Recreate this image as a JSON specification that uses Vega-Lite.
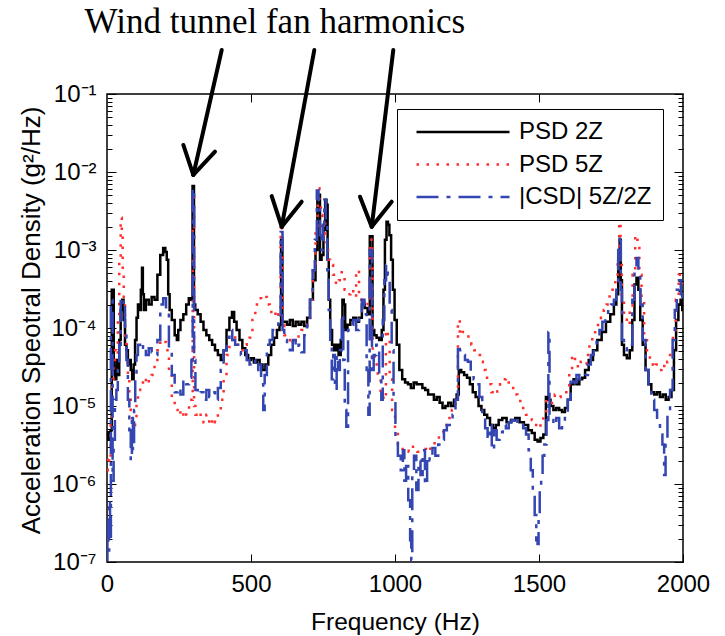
{
  "$schema": "https://vega.github.io/schema/vega-lite/v6.json",
  "width": 576,
  "height": 468,
  "autosize": "none",
  "padding": {"left": 107, "top": 94, "right": 42, "bottom": 74},
  "background": "white",
  "config": {
    "view": {"stroke": "black", "strokeWidth": 1.5},
    "font": "Liberation Sans",
    "axis": {"grid": false, "domain": false, "tickColor": "black", "tickWidth": 1, "labelColor": "black", "titleColor": "black", "labelFont": "Liberation Sans", "titleFont": "Liberation Sans", "titleFontWeight": "normal"},
    "legend": {
      "orient": "none", "legendX": 290, "legendY": 15,
      "symbolType": "stroke", "symbolSize": 8649, "symbolStrokeWidth": 2.5,
      "symbolOffset": 7, "clipHeight": 24, "rowPadding": 8.5,
      "labelFont": "Liberation Sans", "labelFontSize": 24, "labelOffset": 8, "labelColor": "black", "labelLimit": 400,
      "padding": 11, "strokeColor": "black", "fillColor": "white"
    }
  },
  "resolve": {"axis": {"x": "independent", "y": "independent"}},
  "datasets": {
    "series": [
      {"s":"PSD 2Z","f":0,"v":3.7e-6},{"s":"PSD 2Z","f":5,"v":4.6e-6},{"s":"PSD 2Z","f":10,"v":3.7e-6},{"s":"PSD 2Z","f":15,"v":4.9e-6},{"s":"PSD 2Z","f":18,"v":3.1e-4},{"s":"PSD 2Z","f":22,"v":3.1e-4},{"s":"PSD 2Z","f":25,"v":2.9e-5},{"s":"PSD 2Z","f":30,"v":2.2e-5},{"s":"PSD 2Z","f":35,"v":3.9e-5},{"s":"PSD 2Z","f":40,"v":2.5e-5},{"s":"PSD 2Z","f":45,"v":7.0e-5},{"s":"PSD 2Z","f":50,"v":1.7e-4},{"s":"PSD 2Z","f":55,"v":2.3e-4},{"s":"PSD 2Z","f":60,"v":1.27e-4},{"s":"PSD 2Z","f":65,"v":6.1e-5},{"s":"PSD 2Z","f":70,"v":5.2e-5},{"s":"PSD 2Z","f":75,"v":3.4e-5},{"s":"PSD 2Z","f":80,"v":3.9e-5},{"s":"PSD 2Z","f":85,"v":2.9e-5},{"s":"PSD 2Z","f":90,"v":2.2e-5},{"s":"PSD 2Z","f":95,"v":3.4e-5},{"s":"PSD 2Z","f":100,"v":7.0e-5},{"s":"PSD 2Z","f":105,"v":1.35e-4},{"s":"PSD 2Z","f":110,"v":2.0e-4},{"s":"PSD 2Z","f":115,"v":1.7e-4},{"s":"PSD 2Z","f":120,"v":3.1e-4},{"s":"PSD 2Z","f":123,"v":5.9e-4},{"s":"PSD 2Z","f":126,"v":2.7e-4},{"s":"PSD 2Z","f":130,"v":1.7e-4},{"s":"PSD 2Z","f":140,"v":2.3e-4},{"s":"PSD 2Z","f":150,"v":2.0e-4},{"s":"PSD 2Z","f":160,"v":2.5e-4},{"s":"PSD 2Z","f":170,"v":2.3e-4},{"s":"PSD 2Z","f":180,"v":4.8e-4},{"s":"PSD 2Z","f":190,"v":8.6e-4},{"s":"PSD 2Z","f":200,"v":1.06e-3},{"s":"PSD 2Z","f":205,"v":9.4e-4},{"s":"PSD 2Z","f":210,"v":7.5e-4},{"s":"PSD 2Z","f":215,"v":2.7e-4},{"s":"PSD 2Z","f":220,"v":1.7e-4},{"s":"PSD 2Z","f":230,"v":1.27e-4},{"s":"PSD 2Z","f":240,"v":8.1e-5},{"s":"PSD 2Z","f":245,"v":7.0e-5},{"s":"PSD 2Z","f":250,"v":9.4e-5},{"s":"PSD 2Z","f":260,"v":1.27e-4},{"s":"PSD 2Z","f":270,"v":1.5e-4},{"s":"PSD 2Z","f":280,"v":2.0e-4},{"s":"PSD 2Z","f":288,"v":2.4e-4},{"s":"PSD 2Z","f":295,"v":2.3e-4},{"s":"PSD 2Z","f":299,"v":6.6e-3},{"s":"PSD 2Z","f":301,"v":6.6e-3},{"s":"PSD 2Z","f":303,"v":2.0e-4},{"s":"PSD 2Z","f":310,"v":1.7e-4},{"s":"PSD 2Z","f":320,"v":1.5e-4},{"s":"PSD 2Z","f":330,"v":1.2e-4},{"s":"PSD 2Z","f":340,"v":9.4e-5},{"s":"PSD 2Z","f":350,"v":8.1e-5},{"s":"PSD 2Z","f":360,"v":7.0e-5},{"s":"PSD 2Z","f":370,"v":6.1e-5},{"s":"PSD 2Z","f":380,"v":5.2e-5},{"s":"PSD 2Z","f":390,"v":4.5e-5},{"s":"PSD 2Z","f":400,"v":3.9e-5},{"s":"PSD 2Z","f":410,"v":5.2e-5},{"s":"PSD 2Z","f":420,"v":9.4e-5},{"s":"PSD 2Z","f":430,"v":1.35e-4},{"s":"PSD 2Z","f":438,"v":1.6e-4},{"s":"PSD 2Z","f":445,"v":1.2e-4},{"s":"PSD 2Z","f":455,"v":9.4e-5},{"s":"PSD 2Z","f":465,"v":7.0e-5},{"s":"PSD 2Z","f":475,"v":5.5e-5},{"s":"PSD 2Z","f":485,"v":4.5e-5},{"s":"PSD 2Z","f":495,"v":3.9e-5},{"s":"PSD 2Z","f":505,"v":4.1e-5},{"s":"PSD 2Z","f":515,"v":3.6e-5},{"s":"PSD 2Z","f":525,"v":3.9e-5},{"s":"PSD 2Z","f":535,"v":3.4e-5},{"s":"PSD 2Z","f":545,"v":2.9e-5},{"s":"PSD 2Z","f":555,"v":3.4e-5},{"s":"PSD 2Z","f":565,"v":4.5e-5},{"s":"PSD 2Z","f":575,"v":6.1e-5},{"s":"PSD 2Z","f":585,"v":7.5e-5},{"s":"PSD 2Z","f":595,"v":9.4e-5},{"s":"PSD 2Z","f":603,"v":1.1e-4},{"s":"PSD 2Z","f":606,"v":1.35e-3},{"s":"PSD 2Z","f":608,"v":1.35e-3},{"s":"PSD 2Z","f":610,"v":1.2e-4},{"s":"PSD 2Z","f":620,"v":1.2e-4},{"s":"PSD 2Z","f":630,"v":1.1e-4},{"s":"PSD 2Z","f":640,"v":1.27e-4},{"s":"PSD 2Z","f":650,"v":1.06e-4},{"s":"PSD 2Z","f":660,"v":1.2e-4},{"s":"PSD 2Z","f":670,"v":1.1e-4},{"s":"PSD 2Z","f":680,"v":1.2e-4},{"s":"PSD 2Z","f":690,"v":1.06e-4},{"s":"PSD 2Z","f":700,"v":1.35e-4},{"s":"PSD 2Z","f":710,"v":2.3e-4},{"s":"PSD 2Z","f":720,"v":4.1e-4},{"s":"PSD 2Z","f":728,"v":1.0e-3},{"s":"PSD 2Z","f":733,"v":5.1e-3},{"s":"PSD 2Z","f":737,"v":5.1e-3},{"s":"PSD 2Z","f":742,"v":7.5e-4},{"s":"PSD 2Z","f":748,"v":8.6e-4},{"s":"PSD 2Z","f":755,"v":1.8e-3},{"s":"PSD 2Z","f":760,"v":4.4e-3},{"s":"PSD 2Z","f":764,"v":3.8e-3},{"s":"PSD 2Z","f":768,"v":7.5e-4},{"s":"PSD 2Z","f":772,"v":2.3e-4},{"s":"PSD 2Z","f":778,"v":9.4e-5},{"s":"PSD 2Z","f":785,"v":6.1e-5},{"s":"PSD 2Z","f":792,"v":5.2e-5},{"s":"PSD 2Z","f":800,"v":6.1e-5},{"s":"PSD 2Z","f":808,"v":4.5e-5},{"s":"PSD 2Z","f":815,"v":7.0e-5},{"s":"PSD 2Z","f":820,"v":2.3e-4},{"s":"PSD 2Z","f":824,"v":2.0e-4},{"s":"PSD 2Z","f":830,"v":9.4e-5},{"s":"PSD 2Z","f":840,"v":1.1e-4},{"s":"PSD 2Z","f":850,"v":1.27e-4},{"s":"PSD 2Z","f":860,"v":1.35e-4},{"s":"PSD 2Z","f":870,"v":1.2e-4},{"s":"PSD 2Z","f":880,"v":1.35e-4},{"s":"PSD 2Z","f":890,"v":2.0e-4},{"s":"PSD 2Z","f":900,"v":1.8e-4},{"s":"PSD 2Z","f":910,"v":1.5e-4},{"s":"PSD 2Z","f":915,"v":1.5e-3},{"s":"PSD 2Z","f":920,"v":1.5e-3},{"s":"PSD 2Z","f":924,"v":9.4e-5},{"s":"PSD 2Z","f":932,"v":8.1e-5},{"s":"PSD 2Z","f":940,"v":7.5e-5},{"s":"PSD 2Z","f":950,"v":7.0e-5},{"s":"PSD 2Z","f":958,"v":9.4e-5},{"s":"PSD 2Z","f":962,"v":3.1e-4},{"s":"PSD 2Z","f":968,"v":1.35e-3},{"s":"PSD 2Z","f":973,"v":2.3e-3},{"s":"PSD 2Z","f":978,"v":2.1e-3},{"s":"PSD 2Z","f":983,"v":1.55e-3},{"s":"PSD 2Z","f":990,"v":7.5e-4},{"s":"PSD 2Z","f":995,"v":3.1e-4},{"s":"PSD 2Z","f":1002,"v":1.27e-4},{"s":"PSD 2Z","f":1010,"v":6.1e-5},{"s":"PSD 2Z","f":1020,"v":2.9e-5},{"s":"PSD 2Z","f":1030,"v":2.2e-5},{"s":"PSD 2Z","f":1040,"v":2.0e-5},{"s":"PSD 2Z","f":1050,"v":1.9e-5},{"s":"PSD 2Z","f":1060,"v":1.7e-5},{"s":"PSD 2Z","f":1070,"v":2.0e-5},{"s":"PSD 2Z","f":1080,"v":1.9e-5},{"s":"PSD 2Z","f":1090,"v":1.9e-5},{"s":"PSD 2Z","f":1100,"v":1.7e-5},{"s":"PSD 2Z","f":1110,"v":1.6e-5},{"s":"PSD 2Z","f":1120,"v":1.4e-5},{"s":"PSD 2Z","f":1130,"v":1.4e-5},{"s":"PSD 2Z","f":1140,"v":1.2e-5},{"s":"PSD 2Z","f":1150,"v":1.3e-5},{"s":"PSD 2Z","f":1160,"v":1.1e-5},{"s":"PSD 2Z","f":1170,"v":9.4e-6},{"s":"PSD 2Z","f":1180,"v":1.0e-5},{"s":"PSD 2Z","f":1190,"v":1.1e-5},{"s":"PSD 2Z","f":1200,"v":1.0e-5},{"s":"PSD 2Z","f":1210,"v":1.2e-5},{"s":"PSD 2Z","f":1218,"v":1.4e-5},{"s":"PSD 2Z","f":1225,"v":2.9e-5},{"s":"PSD 2Z","f":1235,"v":2.7e-5},{"s":"PSD 2Z","f":1245,"v":2.5e-5},{"s":"PSD 2Z","f":1255,"v":2.3e-5},{"s":"PSD 2Z","f":1265,"v":1.9e-5},{"s":"PSD 2Z","f":1275,"v":1.5e-5},{"s":"PSD 2Z","f":1285,"v":1.3e-5},{"s":"PSD 2Z","f":1295,"v":1.0e-5},{"s":"PSD 2Z","f":1305,"v":8.9e-6},{"s":"PSD 2Z","f":1315,"v":7.7e-6},{"s":"PSD 2Z","f":1325,"v":7.0e-6},{"s":"PSD 2Z","f":1335,"v":5.7e-6},{"s":"PSD 2Z","f":1345,"v":5.2e-6},{"s":"PSD 2Z","f":1355,"v":5.7e-6},{"s":"PSD 2Z","f":1365,"v":6.6e-6},{"s":"PSD 2Z","f":1380,"v":7.0e-6},{"s":"PSD 2Z","f":1395,"v":6.2e-6},{"s":"PSD 2Z","f":1410,"v":6.6e-6},{"s":"PSD 2Z","f":1425,"v":7.0e-6},{"s":"PSD 2Z","f":1440,"v":6.2e-6},{"s":"PSD 2Z","f":1455,"v":5.7e-6},{"s":"PSD 2Z","f":1470,"v":4.9e-6},{"s":"PSD 2Z","f":1480,"v":4.5e-6},{"s":"PSD 2Z","f":1490,"v":3.7e-6},{"s":"PSD 2Z","f":1500,"v":3.5e-6},{"s":"PSD 2Z","f":1510,"v":3.9e-6},{"s":"PSD 2Z","f":1520,"v":4.3e-6},{"s":"PSD 2Z","f":1528,"v":1.3e-5},{"s":"PSD 2Z","f":1535,"v":1.2e-5},{"s":"PSD 2Z","f":1545,"v":1.0e-5},{"s":"PSD 2Z","f":1555,"v":8.9e-6},{"s":"PSD 2Z","f":1565,"v":9.4e-6},{"s":"PSD 2Z","f":1575,"v":8.9e-6},{"s":"PSD 2Z","f":1585,"v":8.4e-6},{"s":"PSD 2Z","f":1595,"v":9.4e-6},{"s":"PSD 2Z","f":1605,"v":1.2e-5},{"s":"PSD 2Z","f":1615,"v":1.9e-5},{"s":"PSD 2Z","f":1625,"v":2.2e-5},{"s":"PSD 2Z","f":1635,"v":1.9e-5},{"s":"PSD 2Z","f":1645,"v":2.2e-5},{"s":"PSD 2Z","f":1655,"v":2.3e-5},{"s":"PSD 2Z","f":1665,"v":2.9e-5},{"s":"PSD 2Z","f":1680,"v":3.9e-5},{"s":"PSD 2Z","f":1695,"v":5.2e-5},{"s":"PSD 2Z","f":1710,"v":7.0e-5},{"s":"PSD 2Z","f":1725,"v":8.9e-5},{"s":"PSD 2Z","f":1740,"v":1.2e-4},{"s":"PSD 2Z","f":1755,"v":1.5e-4},{"s":"PSD 2Z","f":1765,"v":2.0e-4},{"s":"PSD 2Z","f":1772,"v":2.7e-4},{"s":"PSD 2Z","f":1778,"v":7.5e-4},{"s":"PSD 2Z","f":1782,"v":1.35e-3},{"s":"PSD 2Z","f":1786,"v":4.1e-4},{"s":"PSD 2Z","f":1790,"v":6.1e-5},{"s":"PSD 2Z","f":1800,"v":4.5e-5},{"s":"PSD 2Z","f":1810,"v":4.1e-5},{"s":"PSD 2Z","f":1820,"v":5.2e-5},{"s":"PSD 2Z","f":1828,"v":1.27e-4},{"s":"PSD 2Z","f":1835,"v":3.6e-4},{"s":"PSD 2Z","f":1842,"v":4.4e-4},{"s":"PSD 2Z","f":1848,"v":3.1e-4},{"s":"PSD 2Z","f":1855,"v":1.27e-4},{"s":"PSD 2Z","f":1865,"v":6.1e-5},{"s":"PSD 2Z","f":1875,"v":2.9e-5},{"s":"PSD 2Z","f":1885,"v":1.9e-5},{"s":"PSD 2Z","f":1895,"v":1.5e-5},{"s":"PSD 2Z","f":1905,"v":1.4e-5},{"s":"PSD 2Z","f":1915,"v":1.5e-5},{"s":"PSD 2Z","f":1925,"v":1.3e-5},{"s":"PSD 2Z","f":1935,"v":1.4e-5},{"s":"PSD 2Z","f":1945,"v":1.2e-5},{"s":"PSD 2Z","f":1955,"v":1.3e-5},{"s":"PSD 2Z","f":1965,"v":1.6e-5},{"s":"PSD 2Z","f":1972,"v":5.2e-5},{"s":"PSD 2Z","f":1980,"v":1.27e-4},{"s":"PSD 2Z","f":1988,"v":2.0e-4},{"s":"PSD 2Z","f":1995,"v":2.3e-4},{"s":"PSD 2Z","f":2000,"v":1.7e-4},

      {"s":"PSD 5Z","f":0,"v":1.5e-6},{"s":"PSD 5Z","f":5,"v":2.3e-6},{"s":"PSD 5Z","f":10,"v":1.9e-6},{"s":"PSD 5Z","f":15,"v":6.6e-6},{"s":"PSD 5Z","f":20,"v":2.2e-5},{"s":"PSD 5Z","f":25,"v":3.9e-5},{"s":"PSD 5Z","f":30,"v":5.2e-5},{"s":"PSD 5Z","f":35,"v":4.5e-5},{"s":"PSD 5Z","f":40,"v":1.27e-4},{"s":"PSD 5Z","f":45,"v":7.5e-4},{"s":"PSD 5Z","f":50,"v":2.6e-3},{"s":"PSD 5Z","f":53,"v":1.8e-3},{"s":"PSD 5Z","f":56,"v":5.5e-4},{"s":"PSD 5Z","f":60,"v":2.3e-4},{"s":"PSD 5Z","f":65,"v":7.0e-5},{"s":"PSD 5Z","f":70,"v":3.9e-5},{"s":"PSD 5Z","f":75,"v":2.2e-5},{"s":"PSD 5Z","f":80,"v":1.4e-5},{"s":"PSD 5Z","f":85,"v":8.9e-6},{"s":"PSD 5Z","f":90,"v":6.6e-6},{"s":"PSD 5Z","f":95,"v":5.7e-6},{"s":"PSD 5Z","f":100,"v":7.0e-6},{"s":"PSD 5Z","f":105,"v":1.2e-5},{"s":"PSD 5Z","f":110,"v":1.6e-5},{"s":"PSD 5Z","f":120,"v":2.0e-5},{"s":"PSD 5Z","f":130,"v":2.3e-5},{"s":"PSD 5Z","f":140,"v":1.9e-5},{"s":"PSD 5Z","f":150,"v":2.2e-5},{"s":"PSD 5Z","f":160,"v":2.5e-5},{"s":"PSD 5Z","f":170,"v":3.4e-5},{"s":"PSD 5Z","f":180,"v":5.2e-5},{"s":"PSD 5Z","f":190,"v":7.0e-5},{"s":"PSD 5Z","f":200,"v":6.6e-5},{"s":"PSD 5Z","f":210,"v":5.2e-5},{"s":"PSD 5Z","f":220,"v":2.5e-5},{"s":"PSD 5Z","f":230,"v":1.2e-5},{"s":"PSD 5Z","f":240,"v":8.9e-6},{"s":"PSD 5Z","f":250,"v":7.7e-6},{"s":"PSD 5Z","f":260,"v":8.9e-6},{"s":"PSD 5Z","f":270,"v":7.0e-6},{"s":"PSD 5Z","f":280,"v":8.4e-6},{"s":"PSD 5Z","f":290,"v":1.0e-5},{"s":"PSD 5Z","f":296,"v":1.2e-5},{"s":"PSD 5Z","f":299,"v":5.1e-3},{"s":"PSD 5Z","f":301,"v":5.1e-3},{"s":"PSD 5Z","f":304,"v":1.0e-5},{"s":"PSD 5Z","f":310,"v":7.7e-6},{"s":"PSD 5Z","f":320,"v":8.4e-6},{"s":"PSD 5Z","f":330,"v":7.0e-6},{"s":"PSD 5Z","f":340,"v":6.2e-6},{"s":"PSD 5Z","f":350,"v":7.7e-6},{"s":"PSD 5Z","f":360,"v":5.7e-6},{"s":"PSD 5Z","f":370,"v":7.0e-6},{"s":"PSD 5Z","f":380,"v":6.2e-6},{"s":"PSD 5Z","f":390,"v":8.4e-6},{"s":"PSD 5Z","f":400,"v":1.2e-5},{"s":"PSD 5Z","f":410,"v":2.2e-5},{"s":"PSD 5Z","f":420,"v":4.5e-5},{"s":"PSD 5Z","f":430,"v":7.0e-5},{"s":"PSD 5Z","f":440,"v":8.1e-5},{"s":"PSD 5Z","f":450,"v":7.0e-5},{"s":"PSD 5Z","f":460,"v":6.1e-5},{"s":"PSD 5Z","f":470,"v":5.2e-5},{"s":"PSD 5Z","f":480,"v":6.1e-5},{"s":"PSD 5Z","f":490,"v":7.0e-5},{"s":"PSD 5Z","f":500,"v":7.5e-5},{"s":"PSD 5Z","f":510,"v":1.27e-4},{"s":"PSD 5Z","f":520,"v":2.0e-4},{"s":"PSD 5Z","f":530,"v":2.4e-4},{"s":"PSD 5Z","f":540,"v":2.3e-4},{"s":"PSD 5Z","f":550,"v":2.5e-4},{"s":"PSD 5Z","f":560,"v":2.0e-4},{"s":"PSD 5Z","f":570,"v":1.6e-4},{"s":"PSD 5Z","f":580,"v":1.7e-4},{"s":"PSD 5Z","f":590,"v":1.35e-4},{"s":"PSD 5Z","f":600,"v":1.5e-4},{"s":"PSD 5Z","f":606,"v":1.9e-3},{"s":"PSD 5Z","f":608,"v":1.9e-3},{"s":"PSD 5Z","f":611,"v":1.1e-4},{"s":"PSD 5Z","f":620,"v":8.1e-5},{"s":"PSD 5Z","f":630,"v":7.0e-5},{"s":"PSD 5Z","f":640,"v":6.1e-5},{"s":"PSD 5Z","f":650,"v":7.5e-5},{"s":"PSD 5Z","f":660,"v":6.6e-5},{"s":"PSD 5Z","f":670,"v":8.1e-5},{"s":"PSD 5Z","f":680,"v":9.4e-5},{"s":"PSD 5Z","f":690,"v":1.1e-4},{"s":"PSD 5Z","f":700,"v":1.35e-4},{"s":"PSD 5Z","f":710,"v":2.3e-4},{"s":"PSD 5Z","f":720,"v":5.5e-4},{"s":"PSD 5Z","f":728,"v":1.8e-3},{"s":"PSD 5Z","f":735,"v":6.2e-3},{"s":"PSD 5Z","f":740,"v":4.4e-3},{"s":"PSD 5Z","f":745,"v":2.8e-3},{"s":"PSD 5Z","f":750,"v":1.55e-3},{"s":"PSD 5Z","f":755,"v":2.4e-3},{"s":"PSD 5Z","f":760,"v":1.35e-3},{"s":"PSD 5Z","f":765,"v":1.0e-3},{"s":"PSD 5Z","f":770,"v":7.5e-4},{"s":"PSD 5Z","f":780,"v":6.4e-4},{"s":"PSD 5Z","f":790,"v":4.8e-4},{"s":"PSD 5Z","f":800,"v":3.6e-4},{"s":"PSD 5Z","f":810,"v":4.1e-4},{"s":"PSD 5Z","f":820,"v":5.2e-4},{"s":"PSD 5Z","f":830,"v":3.1e-4},{"s":"PSD 5Z","f":840,"v":2.7e-4},{"s":"PSD 5Z","f":850,"v":3.1e-4},{"s":"PSD 5Z","f":860,"v":2.5e-4},{"s":"PSD 5Z","f":870,"v":5.5e-4},{"s":"PSD 5Z","f":880,"v":2.3e-4},{"s":"PSD 5Z","f":890,"v":2.0e-4},{"s":"PSD 5Z","f":900,"v":2.3e-4},{"s":"PSD 5Z","f":910,"v":1.7e-4},{"s":"PSD 5Z","f":915,"v":1.35e-3},{"s":"PSD 5Z","f":920,"v":1.35e-3},{"s":"PSD 5Z","f":925,"v":4.5e-5},{"s":"PSD 5Z","f":935,"v":3.4e-5},{"s":"PSD 5Z","f":945,"v":2.5e-5},{"s":"PSD 5Z","f":955,"v":1.4e-5},{"s":"PSD 5Z","f":965,"v":1.2e-5},{"s":"PSD 5Z","f":972,"v":9.4e-5},{"s":"PSD 5Z","f":978,"v":7.0e-5},{"s":"PSD 5Z","f":985,"v":2.2e-5},{"s":"PSD 5Z","f":995,"v":8.9e-6},{"s":"PSD 5Z","f":1005,"v":4.9e-6},{"s":"PSD 5Z","f":1015,"v":3.2e-6},{"s":"PSD 5Z","f":1025,"v":2.8e-6},{"s":"PSD 5Z","f":1040,"v":2.9e-6},{"s":"PSD 5Z","f":1055,"v":2.6e-6},{"s":"PSD 5Z","f":1070,"v":3.0e-6},{"s":"PSD 5Z","f":1085,"v":2.6e-6},{"s":"PSD 5Z","f":1100,"v":2.8e-6},{"s":"PSD 5Z","f":1115,"v":2.6e-6},{"s":"PSD 5Z","f":1130,"v":3.2e-6},{"s":"PSD 5Z","f":1145,"v":3.7e-6},{"s":"PSD 5Z","f":1160,"v":4.6e-6},{"s":"PSD 5Z","f":1175,"v":5.7e-6},{"s":"PSD 5Z","f":1190,"v":7.0e-6},{"s":"PSD 5Z","f":1205,"v":8.9e-6},{"s":"PSD 5Z","f":1215,"v":1.2e-5},{"s":"PSD 5Z","f":1222,"v":1.27e-4},{"s":"PSD 5Z","f":1228,"v":8.1e-5},{"s":"PSD 5Z","f":1240,"v":8.9e-5},{"s":"PSD 5Z","f":1250,"v":8.1e-5},{"s":"PSD 5Z","f":1260,"v":7.5e-5},{"s":"PSD 5Z","f":1270,"v":6.1e-5},{"s":"PSD 5Z","f":1280,"v":5.2e-5},{"s":"PSD 5Z","f":1290,"v":4.5e-5},{"s":"PSD 5Z","f":1300,"v":3.7e-5},{"s":"PSD 5Z","f":1310,"v":2.9e-5},{"s":"PSD 5Z","f":1320,"v":2.3e-5},{"s":"PSD 5Z","f":1330,"v":1.9e-5},{"s":"PSD 5Z","f":1340,"v":1.5e-5},{"s":"PSD 5Z","f":1350,"v":1.4e-5},{"s":"PSD 5Z","f":1360,"v":1.6e-5},{"s":"PSD 5Z","f":1370,"v":1.9e-5},{"s":"PSD 5Z","f":1380,"v":2.2e-5},{"s":"PSD 5Z","f":1390,"v":2.3e-5},{"s":"PSD 5Z","f":1400,"v":1.9e-5},{"s":"PSD 5Z","f":1410,"v":1.7e-5},{"s":"PSD 5Z","f":1420,"v":1.4e-5},{"s":"PSD 5Z","f":1430,"v":1.3e-5},{"s":"PSD 5Z","f":1440,"v":1.1e-5},{"s":"PSD 5Z","f":1450,"v":8.9e-6},{"s":"PSD 5Z","f":1460,"v":7.7e-6},{"s":"PSD 5Z","f":1470,"v":7.0e-6},{"s":"PSD 5Z","f":1480,"v":6.6e-6},{"s":"PSD 5Z","f":1490,"v":5.7e-6},{"s":"PSD 5Z","f":1500,"v":5.2e-6},{"s":"PSD 5Z","f":1510,"v":6.6e-6},{"s":"PSD 5Z","f":1520,"v":7.7e-6},{"s":"PSD 5Z","f":1530,"v":1.2e-5},{"s":"PSD 5Z","f":1540,"v":1.1e-5},{"s":"PSD 5Z","f":1550,"v":1.3e-5},{"s":"PSD 5Z","f":1560,"v":1.4e-5},{"s":"PSD 5Z","f":1570,"v":1.3e-5},{"s":"PSD 5Z","f":1580,"v":1.4e-5},{"s":"PSD 5Z","f":1590,"v":1.5e-5},{"s":"PSD 5Z","f":1600,"v":1.6e-5},{"s":"PSD 5Z","f":1610,"v":2.9e-5},{"s":"PSD 5Z","f":1620,"v":4.5e-5},{"s":"PSD 5Z","f":1630,"v":3.7e-5},{"s":"PSD 5Z","f":1640,"v":3.1e-5},{"s":"PSD 5Z","f":1650,"v":3.7e-5},{"s":"PSD 5Z","f":1660,"v":3.4e-5},{"s":"PSD 5Z","f":1670,"v":4.5e-5},{"s":"PSD 5Z","f":1680,"v":6.1e-5},{"s":"PSD 5Z","f":1690,"v":7.5e-5},{"s":"PSD 5Z","f":1700,"v":9.4e-5},{"s":"PSD 5Z","f":1710,"v":1.2e-4},{"s":"PSD 5Z","f":1720,"v":1.35e-4},{"s":"PSD 5Z","f":1730,"v":1.7e-4},{"s":"PSD 5Z","f":1740,"v":2.0e-4},{"s":"PSD 5Z","f":1750,"v":2.7e-4},{"s":"PSD 5Z","f":1760,"v":3.1e-4},{"s":"PSD 5Z","f":1770,"v":4.1e-4},{"s":"PSD 5Z","f":1776,"v":7.5e-4},{"s":"PSD 5Z","f":1781,"v":2.3e-3},{"s":"PSD 5Z","f":1785,"v":6.4e-4},{"s":"PSD 5Z","f":1790,"v":2.3e-4},{"s":"PSD 5Z","f":1800,"v":1.35e-4},{"s":"PSD 5Z","f":1810,"v":1.1e-4},{"s":"PSD 5Z","f":1820,"v":1.7e-4},{"s":"PSD 5Z","f":1830,"v":4.8e-4},{"s":"PSD 5Z","f":1838,"v":1.55e-3},{"s":"PSD 5Z","f":1845,"v":1.35e-3},{"s":"PSD 5Z","f":1852,"v":4.8e-4},{"s":"PSD 5Z","f":1860,"v":2.3e-4},{"s":"PSD 5Z","f":1870,"v":8.1e-5},{"s":"PSD 5Z","f":1880,"v":4.5e-5},{"s":"PSD 5Z","f":1890,"v":3.4e-5},{"s":"PSD 5Z","f":1900,"v":3.1e-5},{"s":"PSD 5Z","f":1910,"v":3.4e-5},{"s":"PSD 5Z","f":1920,"v":2.9e-5},{"s":"PSD 5Z","f":1930,"v":3.4e-5},{"s":"PSD 5Z","f":1940,"v":3.1e-5},{"s":"PSD 5Z","f":1950,"v":3.7e-5},{"s":"PSD 5Z","f":1960,"v":5.2e-5},{"s":"PSD 5Z","f":1970,"v":9.4e-5},{"s":"PSD 5Z","f":1980,"v":2.3e-4},{"s":"PSD 5Z","f":1990,"v":4.8e-4},{"s":"PSD 5Z","f":2000,"v":3.1e-4},

      {"s":"|CSD| 5Z/2Z","f":0,"v":1.06e-7},{"s":"|CSD| 5Z/2Z","f":3,"v":3.5e-7},{"s":"|CSD| 5Z/2Z","f":6,"v":1.4e-7},{"s":"|CSD| 5Z/2Z","f":9,"v":6.2e-7},{"s":"|CSD| 5Z/2Z","f":12,"v":1.9e-7},{"s":"|CSD| 5Z/2Z","f":15,"v":2.3e-4},{"s":"|CSD| 5Z/2Z","f":18,"v":2.3e-4},{"s":"|CSD| 5Z/2Z","f":21,"v":1.1e-6},{"s":"|CSD| 5Z/2Z","f":25,"v":3.7e-6},{"s":"|CSD| 5Z/2Z","f":30,"v":1.2e-5},{"s":"|CSD| 5Z/2Z","f":35,"v":1.6e-5},{"s":"|CSD| 5Z/2Z","f":40,"v":2.9e-5},{"s":"|CSD| 5Z/2Z","f":45,"v":6.1e-5},{"s":"|CSD| 5Z/2Z","f":50,"v":2.3e-4},{"s":"|CSD| 5Z/2Z","f":55,"v":2.0e-4},{"s":"|CSD| 5Z/2Z","f":60,"v":2.3e-4},{"s":"|CSD| 5Z/2Z","f":65,"v":9.4e-5},{"s":"|CSD| 5Z/2Z","f":70,"v":3.9e-5},{"s":"|CSD| 5Z/2Z","f":75,"v":1.2e-5},{"s":"|CSD| 5Z/2Z","f":80,"v":4.9e-6},{"s":"|CSD| 5Z/2Z","f":85,"v":2.0e-6},{"s":"|CSD| 5Z/2Z","f":88,"v":7.7e-6},{"s":"|CSD| 5Z/2Z","f":92,"v":2.7e-6},{"s":"|CSD| 5Z/2Z","f":96,"v":8.9e-6},{"s":"|CSD| 5Z/2Z","f":100,"v":2.5e-5},{"s":"|CSD| 5Z/2Z","f":105,"v":4.5e-5},{"s":"|CSD| 5Z/2Z","f":110,"v":6.1e-5},{"s":"|CSD| 5Z/2Z","f":120,"v":5.2e-5},{"s":"|CSD| 5Z/2Z","f":130,"v":6.1e-5},{"s":"|CSD| 5Z/2Z","f":140,"v":4.5e-5},{"s":"|CSD| 5Z/2Z","f":150,"v":5.5e-5},{"s":"|CSD| 5Z/2Z","f":160,"v":4.9e-5},{"s":"|CSD| 5Z/2Z","f":170,"v":4.5e-5},{"s":"|CSD| 5Z/2Z","f":180,"v":7.0e-5},{"s":"|CSD| 5Z/2Z","f":190,"v":2.0e-4},{"s":"|CSD| 5Z/2Z","f":200,"v":2.4e-4},{"s":"|CSD| 5Z/2Z","f":210,"v":1.7e-4},{"s":"|CSD| 5Z/2Z","f":220,"v":5.2e-5},{"s":"|CSD| 5Z/2Z","f":230,"v":2.5e-5},{"s":"|CSD| 5Z/2Z","f":240,"v":1.5e-5},{"s":"|CSD| 5Z/2Z","f":250,"v":1.7e-5},{"s":"|CSD| 5Z/2Z","f":260,"v":1.4e-5},{"s":"|CSD| 5Z/2Z","f":270,"v":2.2e-5},{"s":"|CSD| 5Z/2Z","f":280,"v":1.9e-5},{"s":"|CSD| 5Z/2Z","f":290,"v":2.3e-5},{"s":"|CSD| 5Z/2Z","f":296,"v":3.9e-5},{"s":"|CSD| 5Z/2Z","f":299,"v":6.2e-3},{"s":"|CSD| 5Z/2Z","f":301,"v":6.2e-3},{"s":"|CSD| 5Z/2Z","f":304,"v":3.9e-5},{"s":"|CSD| 5Z/2Z","f":310,"v":1.6e-5},{"s":"|CSD| 5Z/2Z","f":320,"v":1.4e-5},{"s":"|CSD| 5Z/2Z","f":330,"v":1.5e-5},{"s":"|CSD| 5Z/2Z","f":340,"v":1.2e-5},{"s":"|CSD| 5Z/2Z","f":350,"v":1.6e-5},{"s":"|CSD| 5Z/2Z","f":360,"v":1.3e-5},{"s":"|CSD| 5Z/2Z","f":370,"v":1.5e-5},{"s":"|CSD| 5Z/2Z","f":380,"v":1.2e-5},{"s":"|CSD| 5Z/2Z","f":390,"v":1.7e-5},{"s":"|CSD| 5Z/2Z","f":400,"v":2.9e-5},{"s":"|CSD| 5Z/2Z","f":410,"v":5.2e-5},{"s":"|CSD| 5Z/2Z","f":420,"v":7.5e-5},{"s":"|CSD| 5Z/2Z","f":430,"v":9.4e-5},{"s":"|CSD| 5Z/2Z","f":440,"v":7.0e-5},{"s":"|CSD| 5Z/2Z","f":450,"v":6.1e-5},{"s":"|CSD| 5Z/2Z","f":460,"v":4.9e-5},{"s":"|CSD| 5Z/2Z","f":470,"v":4.5e-5},{"s":"|CSD| 5Z/2Z","f":480,"v":5.2e-5},{"s":"|CSD| 5Z/2Z","f":490,"v":3.9e-5},{"s":"|CSD| 5Z/2Z","f":500,"v":3.4e-5},{"s":"|CSD| 5Z/2Z","f":510,"v":3.9e-5},{"s":"|CSD| 5Z/2Z","f":520,"v":2.9e-5},{"s":"|CSD| 5Z/2Z","f":530,"v":3.4e-5},{"s":"|CSD| 5Z/2Z","f":540,"v":1.9e-5},{"s":"|CSD| 5Z/2Z","f":545,"v":8.9e-6},{"s":"|CSD| 5Z/2Z","f":550,"v":2.5e-5},{"s":"|CSD| 5Z/2Z","f":560,"v":6.1e-5},{"s":"|CSD| 5Z/2Z","f":570,"v":7.0e-5},{"s":"|CSD| 5Z/2Z","f":580,"v":9.4e-5},{"s":"|CSD| 5Z/2Z","f":590,"v":1.1e-4},{"s":"|CSD| 5Z/2Z","f":600,"v":1.2e-4},{"s":"|CSD| 5Z/2Z","f":606,"v":1.7e-3},{"s":"|CSD| 5Z/2Z","f":608,"v":1.7e-3},{"s":"|CSD| 5Z/2Z","f":611,"v":9.4e-5},{"s":"|CSD| 5Z/2Z","f":620,"v":7.0e-5},{"s":"|CSD| 5Z/2Z","f":630,"v":6.1e-5},{"s":"|CSD| 5Z/2Z","f":640,"v":5.2e-5},{"s":"|CSD| 5Z/2Z","f":650,"v":7.0e-5},{"s":"|CSD| 5Z/2Z","f":660,"v":5.5e-5},{"s":"|CSD| 5Z/2Z","f":670,"v":6.1e-5},{"s":"|CSD| 5Z/2Z","f":680,"v":4.9e-5},{"s":"|CSD| 5Z/2Z","f":690,"v":8.1e-5},{"s":"|CSD| 5Z/2Z","f":700,"v":1.1e-4},{"s":"|CSD| 5Z/2Z","f":710,"v":2.3e-4},{"s":"|CSD| 5Z/2Z","f":718,"v":5.5e-4},{"s":"|CSD| 5Z/2Z","f":725,"v":1.35e-3},{"s":"|CSD| 5Z/2Z","f":732,"v":5.8e-3},{"s":"|CSD| 5Z/2Z","f":737,"v":3.3e-3},{"s":"|CSD| 5Z/2Z","f":742,"v":1.55e-3},{"s":"|CSD| 5Z/2Z","f":748,"v":1.0e-3},{"s":"|CSD| 5Z/2Z","f":752,"v":2.1e-3},{"s":"|CSD| 5Z/2Z","f":757,"v":4.4e-3},{"s":"|CSD| 5Z/2Z","f":762,"v":2.1e-3},{"s":"|CSD| 5Z/2Z","f":768,"v":5.5e-4},{"s":"|CSD| 5Z/2Z","f":772,"v":1.7e-4},{"s":"|CSD| 5Z/2Z","f":778,"v":6.1e-5},{"s":"|CSD| 5Z/2Z","f":783,"v":2.2e-5},{"s":"|CSD| 5Z/2Z","f":788,"v":4.5e-5},{"s":"|CSD| 5Z/2Z","f":795,"v":1.6e-5},{"s":"|CSD| 5Z/2Z","f":800,"v":4.5e-5},{"s":"|CSD| 5Z/2Z","f":805,"v":2.9e-5},{"s":"|CSD| 5Z/2Z","f":812,"v":5.2e-5},{"s":"|CSD| 5Z/2Z","f":818,"v":1.5e-4},{"s":"|CSD| 5Z/2Z","f":823,"v":3.9e-5},{"s":"|CSD| 5Z/2Z","f":828,"v":8.9e-6},{"s":"|CSD| 5Z/2Z","f":834,"v":5.4e-6},{"s":"|CSD| 5Z/2Z","f":840,"v":9.4e-5},{"s":"|CSD| 5Z/2Z","f":850,"v":1.1e-4},{"s":"|CSD| 5Z/2Z","f":860,"v":1.27e-4},{"s":"|CSD| 5Z/2Z","f":870,"v":9.4e-5},{"s":"|CSD| 5Z/2Z","f":880,"v":1.5e-4},{"s":"|CSD| 5Z/2Z","f":890,"v":2.3e-4},{"s":"|CSD| 5Z/2Z","f":898,"v":1.5e-4},{"s":"|CSD| 5Z/2Z","f":905,"v":2.9e-5},{"s":"|CSD| 5Z/2Z","f":910,"v":7.7e-6},{"s":"|CSD| 5Z/2Z","f":914,"v":1.0e-3},{"s":"|CSD| 5Z/2Z","f":918,"v":1.0e-3},{"s":"|CSD| 5Z/2Z","f":922,"v":2.9e-5},{"s":"|CSD| 5Z/2Z","f":930,"v":4.5e-5},{"s":"|CSD| 5Z/2Z","f":940,"v":6.1e-5},{"s":"|CSD| 5Z/2Z","f":950,"v":2.2e-5},{"s":"|CSD| 5Z/2Z","f":955,"v":1.2e-5},{"s":"|CSD| 5Z/2Z","f":960,"v":1.27e-4},{"s":"|CSD| 5Z/2Z","f":966,"v":4.1e-4},{"s":"|CSD| 5Z/2Z","f":972,"v":6.4e-4},{"s":"|CSD| 5Z/2Z","f":978,"v":4.8e-4},{"s":"|CSD| 5Z/2Z","f":985,"v":1.7e-4},{"s":"|CSD| 5Z/2Z","f":992,"v":5.2e-5},{"s":"|CSD| 5Z/2Z","f":998,"v":1.2e-5},{"s":"|CSD| 5Z/2Z","f":1005,"v":3.7e-6},{"s":"|CSD| 5Z/2Z","f":1015,"v":2.3e-6},{"s":"|CSD| 5Z/2Z","f":1025,"v":1.5e-6},{"s":"|CSD| 5Z/2Z","f":1030,"v":2.7e-6},{"s":"|CSD| 5Z/2Z","f":1035,"v":1.1e-6},{"s":"|CSD| 5Z/2Z","f":1042,"v":1.7e-6},{"s":"|CSD| 5Z/2Z","f":1050,"v":6.2e-7},{"s":"|CSD| 5Z/2Z","f":1055,"v":1.9e-7},{"s":"|CSD| 5Z/2Z","f":1058,"v":1.06e-7},{"s":"|CSD| 5Z/2Z","f":1062,"v":1.5e-6},{"s":"|CSD| 5Z/2Z","f":1070,"v":2.3e-6},{"s":"|CSD| 5Z/2Z","f":1078,"v":8.4e-7},{"s":"|CSD| 5Z/2Z","f":1085,"v":2.0e-6},{"s":"|CSD| 5Z/2Z","f":1092,"v":1.3e-6},{"s":"|CSD| 5Z/2Z","f":1100,"v":2.7e-6},{"s":"|CSD| 5Z/2Z","f":1108,"v":9.7e-7},{"s":"|CSD| 5Z/2Z","f":1115,"v":2.3e-6},{"s":"|CSD| 5Z/2Z","f":1125,"v":2.0e-6},{"s":"|CSD| 5Z/2Z","f":1135,"v":2.9e-6},{"s":"|CSD| 5Z/2Z","f":1145,"v":2.3e-6},{"s":"|CSD| 5Z/2Z","f":1155,"v":3.2e-6},{"s":"|CSD| 5Z/2Z","f":1165,"v":3.7e-6},{"s":"|CSD| 5Z/2Z","f":1175,"v":4.9e-6},{"s":"|CSD| 5Z/2Z","f":1185,"v":5.7e-6},{"s":"|CSD| 5Z/2Z","f":1195,"v":6.6e-6},{"s":"|CSD| 5Z/2Z","f":1205,"v":7.7e-6},{"s":"|CSD| 5Z/2Z","f":1215,"v":1.2e-5},{"s":"|CSD| 5Z/2Z","f":1222,"v":6.1e-5},{"s":"|CSD| 5Z/2Z","f":1228,"v":5.2e-5},{"s":"|CSD| 5Z/2Z","f":1238,"v":4.5e-5},{"s":"|CSD| 5Z/2Z","f":1248,"v":3.9e-5},{"s":"|CSD| 5Z/2Z","f":1258,"v":3.7e-5},{"s":"|CSD| 5Z/2Z","f":1268,"v":2.7e-5},{"s":"|CSD| 5Z/2Z","f":1278,"v":2.2e-5},{"s":"|CSD| 5Z/2Z","f":1288,"v":1.9e-5},{"s":"|CSD| 5Z/2Z","f":1298,"v":1.3e-5},{"s":"|CSD| 5Z/2Z","f":1308,"v":7.7e-6},{"s":"|CSD| 5Z/2Z","f":1318,"v":5.2e-6},{"s":"|CSD| 5Z/2Z","f":1325,"v":3.7e-6},{"s":"|CSD| 5Z/2Z","f":1332,"v":5.7e-6},{"s":"|CSD| 5Z/2Z","f":1340,"v":2.7e-6},{"s":"|CSD| 5Z/2Z","f":1348,"v":4.9e-6},{"s":"|CSD| 5Z/2Z","f":1358,"v":3.7e-6},{"s":"|CSD| 5Z/2Z","f":1368,"v":4.6e-6},{"s":"|CSD| 5Z/2Z","f":1380,"v":5.7e-6},{"s":"|CSD| 5Z/2Z","f":1390,"v":5.2e-6},{"s":"|CSD| 5Z/2Z","f":1400,"v":6.2e-6},{"s":"|CSD| 5Z/2Z","f":1410,"v":6.6e-6},{"s":"|CSD| 5Z/2Z","f":1420,"v":5.7e-6},{"s":"|CSD| 5Z/2Z","f":1430,"v":6.6e-6},{"s":"|CSD| 5Z/2Z","f":1440,"v":6.2e-6},{"s":"|CSD| 5Z/2Z","f":1450,"v":5.2e-6},{"s":"|CSD| 5Z/2Z","f":1460,"v":4.3e-6},{"s":"|CSD| 5Z/2Z","f":1468,"v":2.7e-6},{"s":"|CSD| 5Z/2Z","f":1475,"v":1.5e-6},{"s":"|CSD| 5Z/2Z","f":1482,"v":8.4e-7},{"s":"|CSD| 5Z/2Z","f":1488,"v":4.0e-7},{"s":"|CSD| 5Z/2Z","f":1493,"v":1.9e-7},{"s":"|CSD| 5Z/2Z","f":1497,"v":1.7e-7},{"s":"|CSD| 5Z/2Z","f":1500,"v":3.5e-7},{"s":"|CSD| 5Z/2Z","f":1505,"v":8.4e-7},{"s":"|CSD| 5Z/2Z","f":1510,"v":1.3e-6},{"s":"|CSD| 5Z/2Z","f":1515,"v":2.3e-6},{"s":"|CSD| 5Z/2Z","f":1522,"v":3.2e-6},{"s":"|CSD| 5Z/2Z","f":1530,"v":6.6e-6},{"s":"|CSD| 5Z/2Z","f":1535,"v":8.9e-5},{"s":"|CSD| 5Z/2Z","f":1538,"v":7.7e-6},{"s":"|CSD| 5Z/2Z","f":1545,"v":6.6e-6},{"s":"|CSD| 5Z/2Z","f":1555,"v":5.7e-6},{"s":"|CSD| 5Z/2Z","f":1565,"v":7.0e-6},{"s":"|CSD| 5Z/2Z","f":1575,"v":5.2e-6},{"s":"|CSD| 5Z/2Z","f":1585,"v":6.2e-6},{"s":"|CSD| 5Z/2Z","f":1595,"v":7.7e-6},{"s":"|CSD| 5Z/2Z","f":1605,"v":1.2e-5},{"s":"|CSD| 5Z/2Z","f":1615,"v":2.3e-5},{"s":"|CSD| 5Z/2Z","f":1625,"v":2.0e-5},{"s":"|CSD| 5Z/2Z","f":1635,"v":2.5e-5},{"s":"|CSD| 5Z/2Z","f":1645,"v":2.2e-5},{"s":"|CSD| 5Z/2Z","f":1655,"v":2.3e-5},{"s":"|CSD| 5Z/2Z","f":1665,"v":2.5e-5},{"s":"|CSD| 5Z/2Z","f":1675,"v":3.4e-5},{"s":"|CSD| 5Z/2Z","f":1685,"v":4.5e-5},{"s":"|CSD| 5Z/2Z","f":1695,"v":5.5e-5},{"s":"|CSD| 5Z/2Z","f":1705,"v":7.0e-5},{"s":"|CSD| 5Z/2Z","f":1715,"v":9.4e-5},{"s":"|CSD| 5Z/2Z","f":1725,"v":1.2e-4},{"s":"|CSD| 5Z/2Z","f":1735,"v":1.35e-4},{"s":"|CSD| 5Z/2Z","f":1745,"v":1.7e-4},{"s":"|CSD| 5Z/2Z","f":1755,"v":2.0e-4},{"s":"|CSD| 5Z/2Z","f":1765,"v":2.3e-4},{"s":"|CSD| 5Z/2Z","f":1772,"v":3.1e-4},{"s":"|CSD| 5Z/2Z","f":1778,"v":1.0e-3},{"s":"|CSD| 5Z/2Z","f":1782,"v":1.55e-3},{"s":"|CSD| 5Z/2Z","f":1786,"v":3.1e-4},{"s":"|CSD| 5Z/2Z","f":1790,"v":7.0e-5},{"s":"|CSD| 5Z/2Z","f":1800,"v":5.5e-5},{"s":"|CSD| 5Z/2Z","f":1810,"v":5.2e-5},{"s":"|CSD| 5Z/2Z","f":1820,"v":6.1e-5},{"s":"|CSD| 5Z/2Z","f":1828,"v":2.3e-4},{"s":"|CSD| 5Z/2Z","f":1835,"v":5.5e-4},{"s":"|CSD| 5Z/2Z","f":1842,"v":7.9e-4},{"s":"|CSD| 5Z/2Z","f":1848,"v":4.8e-4},{"s":"|CSD| 5Z/2Z","f":1855,"v":2.0e-4},{"s":"|CSD| 5Z/2Z","f":1865,"v":7.0e-5},{"s":"|CSD| 5Z/2Z","f":1875,"v":2.9e-5},{"s":"|CSD| 5Z/2Z","f":1885,"v":1.6e-5},{"s":"|CSD| 5Z/2Z","f":1895,"v":1.2e-5},{"s":"|CSD| 5Z/2Z","f":1905,"v":8.9e-6},{"s":"|CSD| 5Z/2Z","f":1915,"v":6.6e-6},{"s":"|CSD| 5Z/2Z","f":1925,"v":4.3e-6},{"s":"|CSD| 5Z/2Z","f":1932,"v":3.2e-6},{"s":"|CSD| 5Z/2Z","f":1937,"v":1.3e-6},{"s":"|CSD| 5Z/2Z","f":1942,"v":3.7e-6},{"s":"|CSD| 5Z/2Z","f":1950,"v":7.7e-6},{"s":"|CSD| 5Z/2Z","f":1960,"v":1.6e-5},{"s":"|CSD| 5Z/2Z","f":1968,"v":7.0e-5},{"s":"|CSD| 5Z/2Z","f":1975,"v":1.7e-4},{"s":"|CSD| 5Z/2Z","f":1982,"v":3.1e-4},{"s":"|CSD| 5Z/2Z","f":1990,"v":4.1e-4},{"s":"|CSD| 5Z/2Z","f":1995,"v":2.7e-4},{"s":"|CSD| 5Z/2Z","f":2000,"v":2.3e-4}
    ],
    "arrows": [
      {"x":398.3,"y":0.3664,"x2":299.7,"y2":0.00916},
      {"x":265,"y":0.0222,"x2":299.7,"y2":0.00916},
      {"x":375,"y":0.0182,"x2":299.7,"y2":0.00916},
      {"x":719.8,"y":0.3664,"x2":606.6,"y2":0.00199},
      {"x":571.9,"y":0.00492,"x2":606.6,"y2":0.00199},
      {"x":676,"y":0.00416,"x2":606.6,"y2":0.00199},
      {"x":994.1,"y":0.3664,"x2":919.1,"y2":0.00199},
      {"x":878.5,"y":0.00482,"x2":919.1,"y2":0.00199},
      {"x":988.5,"y":0.00416,"x2":919.1,"y2":0.00199}
    ],
    "heading": [
      {"t":"Wind tunnel fan harmonics","x":583,"y":0.605}
    ]
  },
  "layer": [
    {
      "data": {"name": "series"},
      "mark": {"type": "line", "interpolate": "step", "strokeWidth": 2.5, "clip": true},
      "encoding": {
        "x": {"field": "f", "type": "quantitative",
          "scale": {"domain": [0, 2000], "nice": false, "zero": false},
          "axis": {"orient": "bottom", "values": [0, 500, 1000, 1500, 2000], "format": "d", "tickSize": -8, "labelPadding": 18, "labelFontSize": 24, "labelFlush": false, "labelOverlap": false, "title": "Frequency (Hz)", "titleFontSize": 24.5, "titlePadding": 14}},
        "y": {"field": "v", "type": "quantitative",
          "scale": {"type": "log", "domain": [1e-7, 0.1], "nice": false},
          "axis": {"orient": "left",
            "values": [1e-7,2e-7,3e-7,4e-7,5e-7,6e-7,7e-7,8e-7,9e-7,1e-6,2e-6,3e-6,4e-6,5e-6,6e-6,7e-6,8e-6,9e-6,1e-5,2e-5,3e-5,4e-5,5e-5,6e-5,7e-5,8e-5,9e-5,1e-4,2e-4,3e-4,4e-4,5e-4,6e-4,7e-4,8e-4,9e-4,1e-3,2e-3,3e-3,4e-3,5e-3,6e-3,7e-3,8e-3,9e-3,1e-2,2e-2,3e-2,4e-2,5e-2,6e-2,7e-2,8e-2,9e-2,1e-1],
            "labelExpr": "abs(log(datum.value)/LN10 - round(log(datum.value)/LN10)) < 0.01 ? '10' + ['', '⁻¹', '⁻²', '⁻³', '⁻⁴', '⁻⁵', '⁻⁶', '⁻⁷'][-round(log(datum.value)/LN10)] : ''",
            "tickSize": {"condition": {"test": "abs(log(datum.value)/LN10 - round(log(datum.value)/LN10)) < 0.01", "value": -9}, "value": -5},
            "labelPadding": 20, "labelFontSize": 24, "labelOverlap": false, "labelFlush": false,
            "title": "Acceleration Speotral Density (g²/Hz)", "titleFontSize": 26, "titlePadding": 6, "titleY": 226}},
        "color": {"field": "s", "type": "nominal",
          "scale": {"domain": ["PSD 2Z", "PSD 5Z", "|CSD| 5Z/2Z"], "range": ["#000000", "#ff2e2e", "#3446b2"]},
          "legend": {"title": null, "labelExpr": "datum.label == '|CSD| 5Z/2Z' ? datum.label + '\u2002\u2009' : datum.label"}},
        "strokeDash": {"field": "s", "type": "nominal",
          "scale": {"domain": ["PSD 2Z", "PSD 5Z", "|CSD| 5Z/2Z"], "range": [[1, 0], [2.5, 7.5], [22, 8, 4, 8]]},
          "legend": {"title": null, "labelExpr": "datum.label == '|CSD| 5Z/2Z' ? datum.label + '\u2002\u2009' : datum.label"}}
      }
    },
    {
      "data": {"name": "arrows"},
      "mark": {"type": "rule", "strokeWidth": 4, "color": "black", "strokeCap": "round"},
      "encoding": {
        "x": {"field": "x", "type": "quantitative",
          "axis": {"orient": "top", "values": [500, 1000, 1500], "tickSize": -8, "labels": false, "title": null}},
        "y": {"field": "y", "type": "quantitative",
          "axis": {"orient": "right",
            "values": [1e-7,2e-7,3e-7,4e-7,5e-7,6e-7,7e-7,8e-7,9e-7,1e-6,2e-6,3e-6,4e-6,5e-6,6e-6,7e-6,8e-6,9e-6,1e-5,2e-5,3e-5,4e-5,5e-5,6e-5,7e-5,8e-5,9e-5,1e-4,2e-4,3e-4,4e-4,5e-4,6e-4,7e-4,8e-4,9e-4,1e-3,2e-3,3e-3,4e-3,5e-3,6e-3,7e-3,8e-3,9e-3,1e-2,2e-2,3e-2,4e-2,5e-2,6e-2,7e-2,8e-2,9e-2,1e-1],
            "tickSize": {"condition": {"test": "abs(log(datum.value)/LN10 - round(log(datum.value)/LN10)) < 0.01", "value": -9}, "value": -5},
            "labels": false, "title": null}},
        "x2": {"field": "x2"},
        "y2": {"field": "y2"}
      }
    },
    {
      "data": {"name": "heading"},
      "mark": {"type": "text", "font": "Liberation Serif", "fontSize": 35, "align": "center", "baseline": "alphabetic", "color": "black"},
      "encoding": {
        "x": {"field": "x", "type": "quantitative", "axis": null},
        "y": {"field": "y", "type": "quantitative", "axis": null},
        "text": {"field": "t"}
      }
    }
  ]
}
